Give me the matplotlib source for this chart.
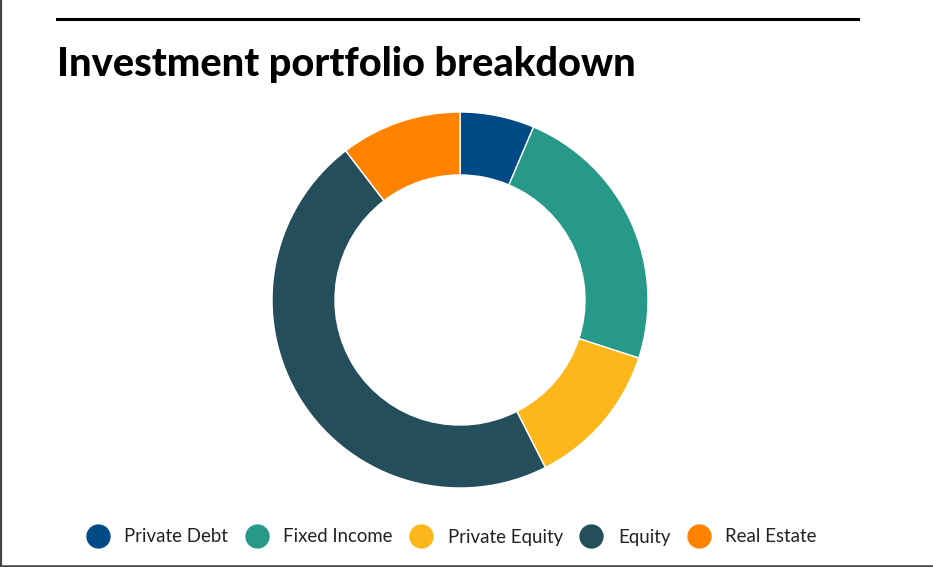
import matplotlib
matplotlib.use("Agg")
import matplotlib.pyplot as plt
from matplotlib.lines import Line2D

# data (share of portfolio, %)
categories = ["Private Debt", "Fixed Income", "Private Equity", "Equity", "Real Estate"]
shares = [6.4, 23.6, 12.5, 47.1, 10.4]
colors = ["#004B87", "#279989", "#FDB71A", "#244E5C", "#FF8300"]
title = "Investment portfolio breakdown"

W, H = 933, 567
fig = plt.figure(figsize=(W / 100, H / 100), dpi=100)
fig.patch.set_facecolor("white")

def fx(px):
    return px / W

def fy(py):
    return 1 - py / H

# frame lines (left and bottom) and top rule
fig.add_artist(Line2D([fx(1), fx(1)], [0, 1], color="#444444", lw=1.6))
fig.add_artist(Line2D([0, 1], [fy(565.5), fy(565.5)], color="#444444", lw=1.8))
fig.add_artist(Line2D([fx(57), fx(858)], [fy(19), fy(19)], color="black", lw=2.2))

fig.text(fx(57), fy(76), title, fontsize=28.6, fontweight="black",
         family="Lato", color="black", va="baseline", ha="left")

# donut
cx, cy, r = 460, 300, 188
ax = fig.add_axes([fx(cx - r), fy(cy + r), (2 * r) / W, (2 * r) / H])
wedges, _ = ax.pie(shares, colors=colors, startangle=90, counterclock=False,
                   wedgeprops=dict(width=0.335, edgecolor="white", linewidth=1.0))
ax.set_xlim(-1.0, 1.0)
ax.set_ylim(-1.0, 1.0)
ax.set_axis_off()

handles = [Line2D([], [], marker="o", linestyle="none", markersize=16.5,
                  markerfacecolor=c, markeredgecolor=c) for c in colors]
fig.legend(handles, categories, loc="center", bbox_to_anchor=(fx(452), fy(537)),
           ncol=5, frameon=False, prop=dict(family="Lato", size=13.4),
           handlelength=1.15, handletextpad=0.85, columnspacing=0.95,
           labelcolor="#222222")

fig.savefig("out.png", dpi=100, facecolor="white")
